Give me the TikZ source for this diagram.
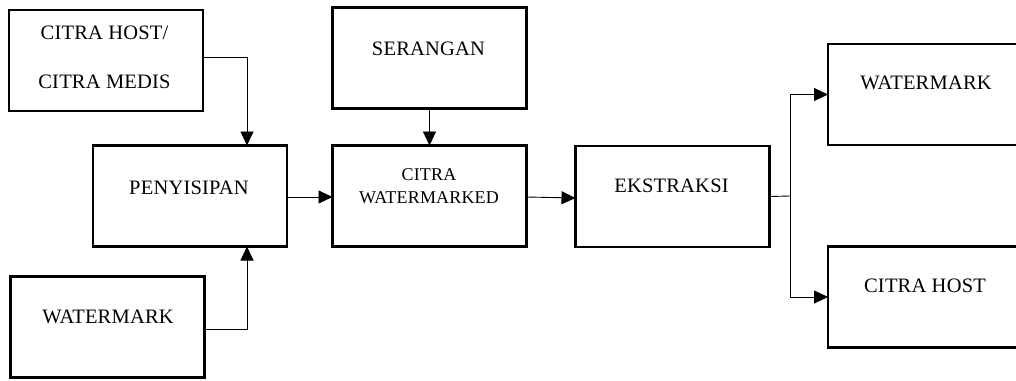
\documentclass[tikz,border=0pt]{standalone}
\usepackage{fontspec}
\setmainfont{Liberation Serif}[LetterSpace=1]
\usetikzlibrary{arrows.meta}
\begin{document}
\begin{tikzpicture}[x=1pt,y=-1pt,
  box/.style={draw, line width=2.2pt, minimum width=194pt, minimum height=101pt, inner sep=0pt, outer sep=0pt},
  lbl/.style={font=\fontsize{20.5}{23}\selectfont, inner sep=0pt, anchor=base},
  lbls/.style={font=\fontsize{18}{21}\selectfont, inner sep=0pt, anchor=base},
  conn/.style={line width=0.9pt, -{Triangle[length=14pt,width=13pt]}}]
\clip (0,0) rectangle (1016,380);
\fill[white] (0,0) rectangle (1016,380);
% boxes
\node[box] (host) at (106,60.5) {};
\node[box] (pen)  at (190,196) {};
\node[box] (ser)  at (429.5,58) {};
\node[box] (cw)   at (429.5,196) {};
\node[box] (eks)  at (672.5,196.5) {};
\node[box] (wmR)  at (925,94.5) {};
\node[box] (hostR) at (925,297) {};
\node[box] (wmL)  at (107.5,327) {};
% labels
\node[lbl] (tHost1) at (104.5,39.8) {CITRA HOST/};
\node[lbl] (tHost2) at (104.5,88.8) {CITRA MEDIS};
\node[lbl] (tPen) at (189,194.8) {PENYISIPAN};
\node[lbl] (tSer) at (428.5,55.8) {SERANGAN};
\node[lbls] (tCw1) at (429,180) {CITRA};
\node[lbls] (tCw2) at (429,203) {WATERMARKED};
\node[lbl] (tEks) at (671.5,192.8) {EKSTRAKSI};
\node[lbl] (tWmR) at (926,89.8) {WATERMARK};
\node[lbl] (tHostR) at (925,292.8) {CITRA HOST};
\node[lbl] (tWmL) at (108,323.8) {WATERMARK};
% connectors
\draw[conn] ([yshift=3.5pt]host.east) -| ([xshift=57pt]pen.north);
\draw[conn] ([yshift=-2pt]wmL.east) -| ([xshift=57pt]pen.south);
\draw[conn] ([yshift=-1pt]pen.east) -- ([yshift=-1pt]cw.west);
\draw[conn] (ser.south) -- (cw.north);
\draw[conn] ([yshift=-1pt]cw.east) -- ([yshift=-1.5pt]eks.west);
\coordinate (split) at (790,196);
\draw[line width=0.9pt] (eks.east) -- (split);
\draw[conn] (split) |- (wmR.west);
\draw[conn] (split) |- (hostR.west);
\end{tikzpicture}
\end{document}
